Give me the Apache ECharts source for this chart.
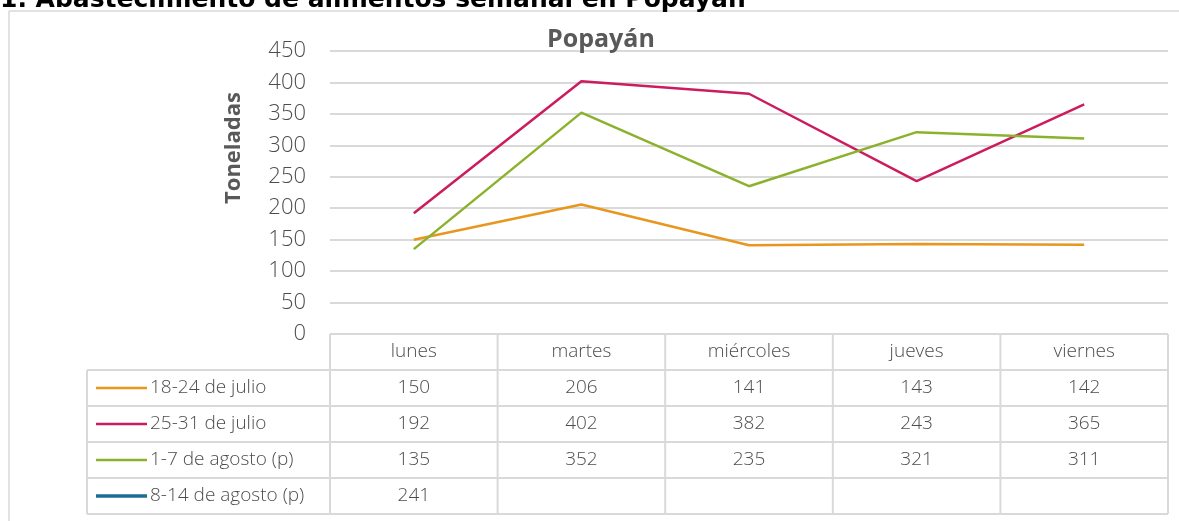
<!DOCTYPE html>
<html>
<head>
<meta charset="utf-8">
<script src="https://cdn.jsdelivr.net/npm/echarts@6/dist/echarts.min.js"></script>
<style>
html, body { margin: 0; padding: 0; background: #fff; }
#chart { width: 1179px; height: 521px; }
</style>
</head>
<body>
<div id="chart"></div>
<script>
// datos del cuadro
const dias = ['lunes', 'martes', 'miércoles', 'jueves', 'viernes'];
const semanas = ['18-24 de julio', '25-31 de julio', '1-7 de agosto (p)', '8-14 de agosto (p)'];
const julio18 = [150, 206, 141, 143, 142];
const julio25 = [192, 402, 382, 243, 365];
const agosto1 = [135, 352, 235, 321, 311];
const agosto8 = [241, null, null, null, null];
const colores = ['#E8961E', '#CC1C5E', '#8CB22D', '#1B6E96'];

const valores = [julio18, julio25, agosto1, agosto8];
const fuente = '"Open Sans", sans-serif';
const gris = '#595959';
const borde = '#D9D9D9';

const chart = echarts.init(document.getElementById('chart'));

chart.setOption({
    animation: false,
    title: {
        text: 'Popayán',
        left: 542,
        top: 22,
        textStyle: { fontFamily: fuente, fontSize: 25, fontWeight: 'bold', color: gris }
    },
    grid: { left: 330, right: 11, top: 51, bottom: 187 },
    xAxis: {
        type: 'category',
        data: dias,
        boundaryGap: true,
        axisLine: { show: false },
        axisTick: { show: false },
        axisLabel: { show: false }
    },
    yAxis: {
        type: 'value',
        min: 0,
        max: 450,
        interval: 50,
        axisLabel: { fontFamily: fuente, fontSize: 22, fontWeight: 300, color: '#4d4d4d', margin: 24 },
        splitLine: { lineStyle: { color: borde, width: 2 } }
    },
    series: valores.map((v, i) => ({
        name: semanas[i],
        type: 'line',
        data: v,
        showSymbol: false,
        symbol: 'none',
        lineStyle: { color: colores[i], width: 2.5 },
        itemStyle: { color: colores[i] },
        emphasis: { disabled: true }
    }))
});

// tabla de datos bajo el eje
const ancho = (1168 - 330) / dias.length;
const filaY = [334, 370, 406, 442, 478, 514];
const izq = 87;
const letra = '300 19px ' + fuente;
const tinta = '#4d4d4d';
const graficos = [];

const linea = (x1, y1, x2, y2, color, w) => ({
    type: 'line',
    shape: { x1, y1, x2, y2 },
    style: { stroke: color, lineWidth: w }
});

// marco exterior
graficos.push(linea(9, 11, 1179, 11, borde, 1.5));
graficos.push(linea(9, 11, 9, 521, borde, 1.5));

graficos.push({
    type: 'text',
    x: 0,
    y: 13,
    style: {
        text: '1. Abastecimiento de alimentos semanal en Popayán',
        font: 'bold 25px "DejaVu Sans", sans-serif',
        fill: '#000',
        textVerticalAlign: 'bottom'
    }
});

// título del eje vertical
graficos.push({
    type: 'text',
    x: 234,
    y: 148,
    rotation: Math.PI / 2,
    style: {
        text: 'Toneladas',
        font: 'bold 22px ' + fuente,
        fill: gris,
        textAlign: 'center',
        textVerticalAlign: 'middle'
    }
});

const centros = dias.map(d => chart.convertToPixel({ xAxisIndex: 0 }, d));
const x0 = centros[0] - ancho / 2;
const x1 = centros[centros.length - 1] + ancho / 2;

graficos.push(linea(x0, filaY[0], x1, filaY[0], borde, 2));
for (let r = 1; r < filaY.length; r++) {
    graficos.push(linea(izq, filaY[r], x1, filaY[r], borde, 2));
}
graficos.push(linea(izq, filaY[1], izq, filaY[5], borde, 2));
for (let c = 0; c <= dias.length; c++) {
    const x = x0 + c * ancho;
    graficos.push(linea(x, filaY[0], x, filaY[5], borde, 2));
}

dias.forEach((d, c) => {
    graficos.push({
        type: 'text',
        x: centros[c],
        y: (filaY[0] + filaY[1]) / 2,
        style: { text: d, font: letra, fill: tinta, textAlign: 'center', textVerticalAlign: 'middle' }
    });
});

semanas.forEach((s, r) => {
    const yc = (filaY[r + 1] + filaY[r + 2]) / 2;
    graficos.push(linea(96, yc, 147, yc, colores[r], r === 3 ? 3.5 : 2.5));
    graficos.push({
        type: 'text',
        x: 150,
        y: yc,
        style: { text: s, font: letra, fill: tinta, textAlign: 'left', textVerticalAlign: 'middle' }
    });
    valores[r].forEach((v, c) => {
        if (v == null) return;
        graficos.push({
            type: 'text',
            x: centros[c],
            y: yc,
            style: { text: String(v), font: letra, fill: tinta, textAlign: 'center', textVerticalAlign: 'middle' }
        });
    });
});

chart.setOption({ graphic: graficos });
</script>
</body>
</html>
